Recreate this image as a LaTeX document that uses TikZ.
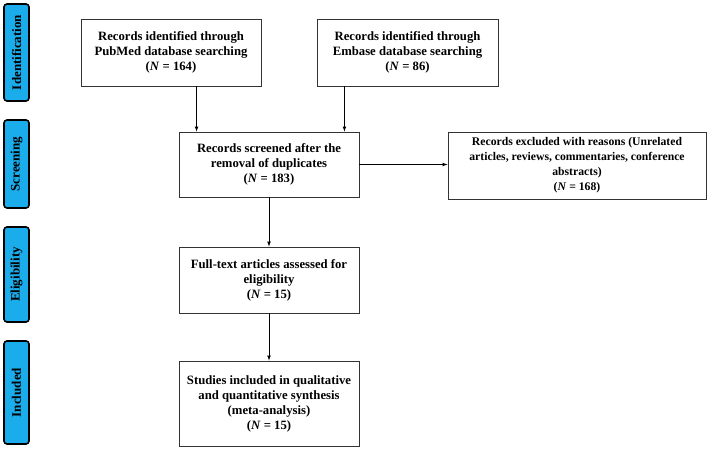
\documentclass[tikz,border=0pt]{standalone}
\usepackage{fontspec}
\setmainfont{Liberation Serif}
\usetikzlibrary{arrows,calc}
\definecolor{stagecyan}{RGB}{27,172,235}

\begin{document}
\begin{tikzpicture}[x=1pt,y=-1pt]
\tikzstyle{every node}=[font=\bfseries\fontsize{12.7}{15}\selectfont]
\tikzstyle{box}=[draw=black!80, line width=0.9pt, align=center, inner sep=2pt]
\tikzstyle{stage}=[draw=black, line width=1.6pt, fill=stagecyan, rounded corners=3pt,
	rotate=90, minimum height=25pt, inner sep=0pt, font=\bfseries\fontsize{13}{15}\selectfont]
\tikzstyle{link}=[-latex, line width=0.7pt]

	\useasboundingbox (0,0) rectangle (709,449);

	% stage labels on the left
	\node[stage, minimum width=97pt] (sident) at (16.5,52.5) {Identification};
	\node[stage, minimum width=88pt] (sscreen) at (16.5,164) {Screening};
	\node[stage, minimum width=95pt] (selig) at (16.5,274.5) {Eligibility};
	\node[stage, minimum width=103pt] (sincl) at (16.5,392.5) {Included};

	% boxes
	\node[box, minimum width=180pt, minimum height=67pt] (pubmed) at (171,52.5)
		{Records identified through\\PubMed database searching\\(\textit{N} = 164)};
	\node[box, minimum width=181pt, minimum height=67pt] (embase) at (407.5,52.5)
		{Records identified through\\Embase database searching\\(\textit{N} = 86)};
	\node[box, minimum width=180pt, minimum height=65pt] (screen) at (269,164.5)
		{Records screened after the\\removal of duplicates\\(\textit{N} = 183)};
	\node[box, minimum width=258pt, minimum height=67pt, font=\bfseries\fontsize{11.7}{15}\selectfont]
		(excl) at (577,165.5)
		{Records excluded with reasons (Unrelated\\articles, reviews, commentaries, conference\\abstracts)\\(\textit{N} = 168)};
	\node[box, minimum width=180pt, minimum height=66pt] (elig) at (269,280)
		{Full-text articles assessed for\\eligibility\\(\textit{N} = 15)};
	\node[box, minimum width=180pt, minimum height=85pt] (incl) at (269,403.5)
		{Studies included in qualitative\\and quantitative synthesis\\(meta-analysis)\\(\textit{N} = 15)};

	% arrows
	\coordinate (inl) at ($(screen.north west)+(18,0)$);
	\coordinate (inr) at ($(screen.north east)+(-15,0)$);
	\draw[link] (inl |- pubmed.south) -- (inl);
	\draw[link] (inr |- embase.south) -- (inr);
	\draw[link] (screen.east) -- (screen.east -| excl.west);
	\draw[link] (screen) -- (elig);
	\draw[link] (elig) -- (incl);
\end{tikzpicture}
\end{document}
